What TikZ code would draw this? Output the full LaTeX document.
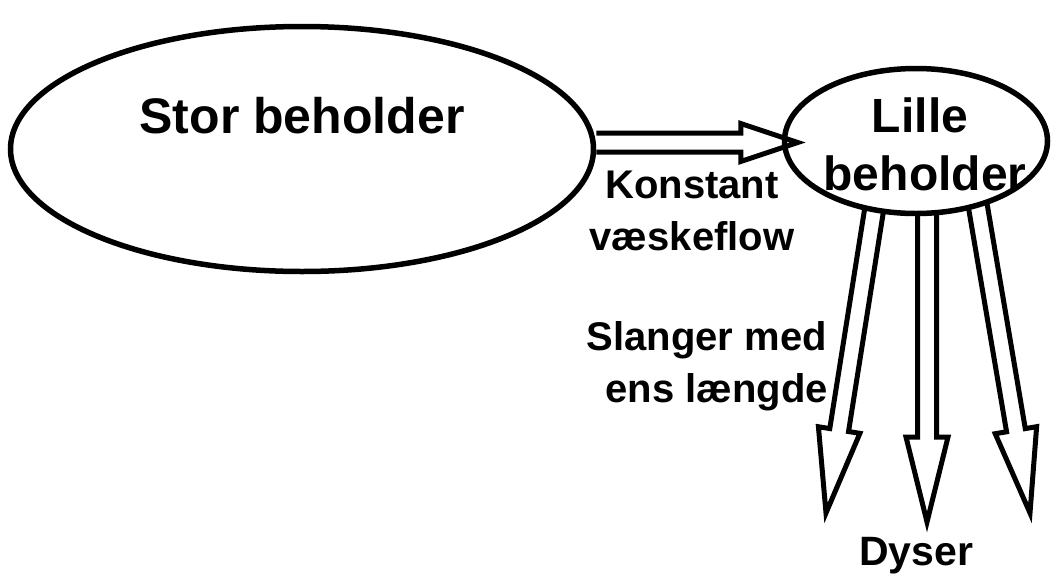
\documentclass[tikz,border=0pt]{standalone}
\usepackage{fontspec}
\setmainfont{Liberation Sans}
\usetikzlibrary{calc,shapes.geometric}
\tikzset{
  tank/.style={draw, ellipse, line width=5.5pt, fill=white, inner sep=0pt},
  lbl/.style={inner sep=0pt, anchor=base, font=\bfseries},
  hollow/.style n args={3}{line width=5pt, to path={
    ($(\tikztostart)!#1!-90:(\tikztotarget)$) --
    ($(\tikztotarget)!#3!(\tikztostart)!#1!90:(\tikztostart)$) --
    ($(\tikztotarget)!#3!(\tikztostart)!#2!90:(\tikztostart)$) --
    (\tikztotarget) --
    ($(\tikztotarget)!#3!(\tikztostart)!#2!-90:(\tikztostart)$) --
    ($(\tikztotarget)!#3!(\tikztostart)!#1!-90:(\tikztostart)$) --
    ($(\tikztostart)!#1!90:(\tikztotarget)$)
  }}
}
\begin{document}
\begin{tikzpicture}[x=1pt,y=-1pt]
\useasboundingbox (0,0) rectangle (1053,576);
% big tank
\node[tank, minimum width=583pt, minimum height=245pt] (sb) at (302,149) {};
\node[lbl, font=\bfseries\fontsize{50}{60}\selectfont] (sbt) at (302,133) {Stor beholder};
% down hoses (behind small tank)
\coordinate (d1s) at (882,160);
\coordinate (d1t) at (826,513);
\coordinate (d2s) at (927,160);
\coordinate (d2t) at (927,522);
\coordinate (d3s) at (970,160);
\coordinate (d3t) at (1030,513);
\draw[hollow={9.5pt}{21pt}{84pt}] (d1s) to (d1t);
\draw[hollow={9.5pt}{21pt}{85pt}] (d2s) to (d2t);
\draw[hollow={9.5pt}{21pt}{84pt}] (d3s) to (d3t);
% small tank
\node[tank, minimum width=263pt, minimum height=145pt] (lb) at (916,141) {};
\node[lbl, font=\bfseries\fontsize{48}{58}\selectfont] (lbt1) at (920,132) {Lille};
\node[lbl, font=\bfseries\fontsize{48}{58}\selectfont] (lbt2) at (925,190) {beholder};
% flow arrow
\coordinate (htip) at ($(lb.west)+(16,1.5)$);
\draw[hollow={9.5pt}{19pt}{57pt}] ($(sb.east)+(0,-6.5)$) to (htip);
% labels
\node[lbl, font=\bfseries\fontsize{40}{52}\selectfont] (k1) at (692,198) {Konstant};
\node[lbl, font=\bfseries\fontsize{40}{52}\selectfont] (k2) at (692,250) {væskeflow};
\node[lbl, anchor=base east, font=\bfseries\fontsize{40}{52}\selectfont] (s1) at (827,350) {Slanger med};
\node[lbl, anchor=base east, font=\bfseries\fontsize{40}{52}\selectfont] (s2) at (828,402) {ens længde};
\node[lbl, font=\bfseries\fontsize{41}{52}\selectfont] (dy) at (916,565) {Dyser};
\end{tikzpicture}
\end{document}
